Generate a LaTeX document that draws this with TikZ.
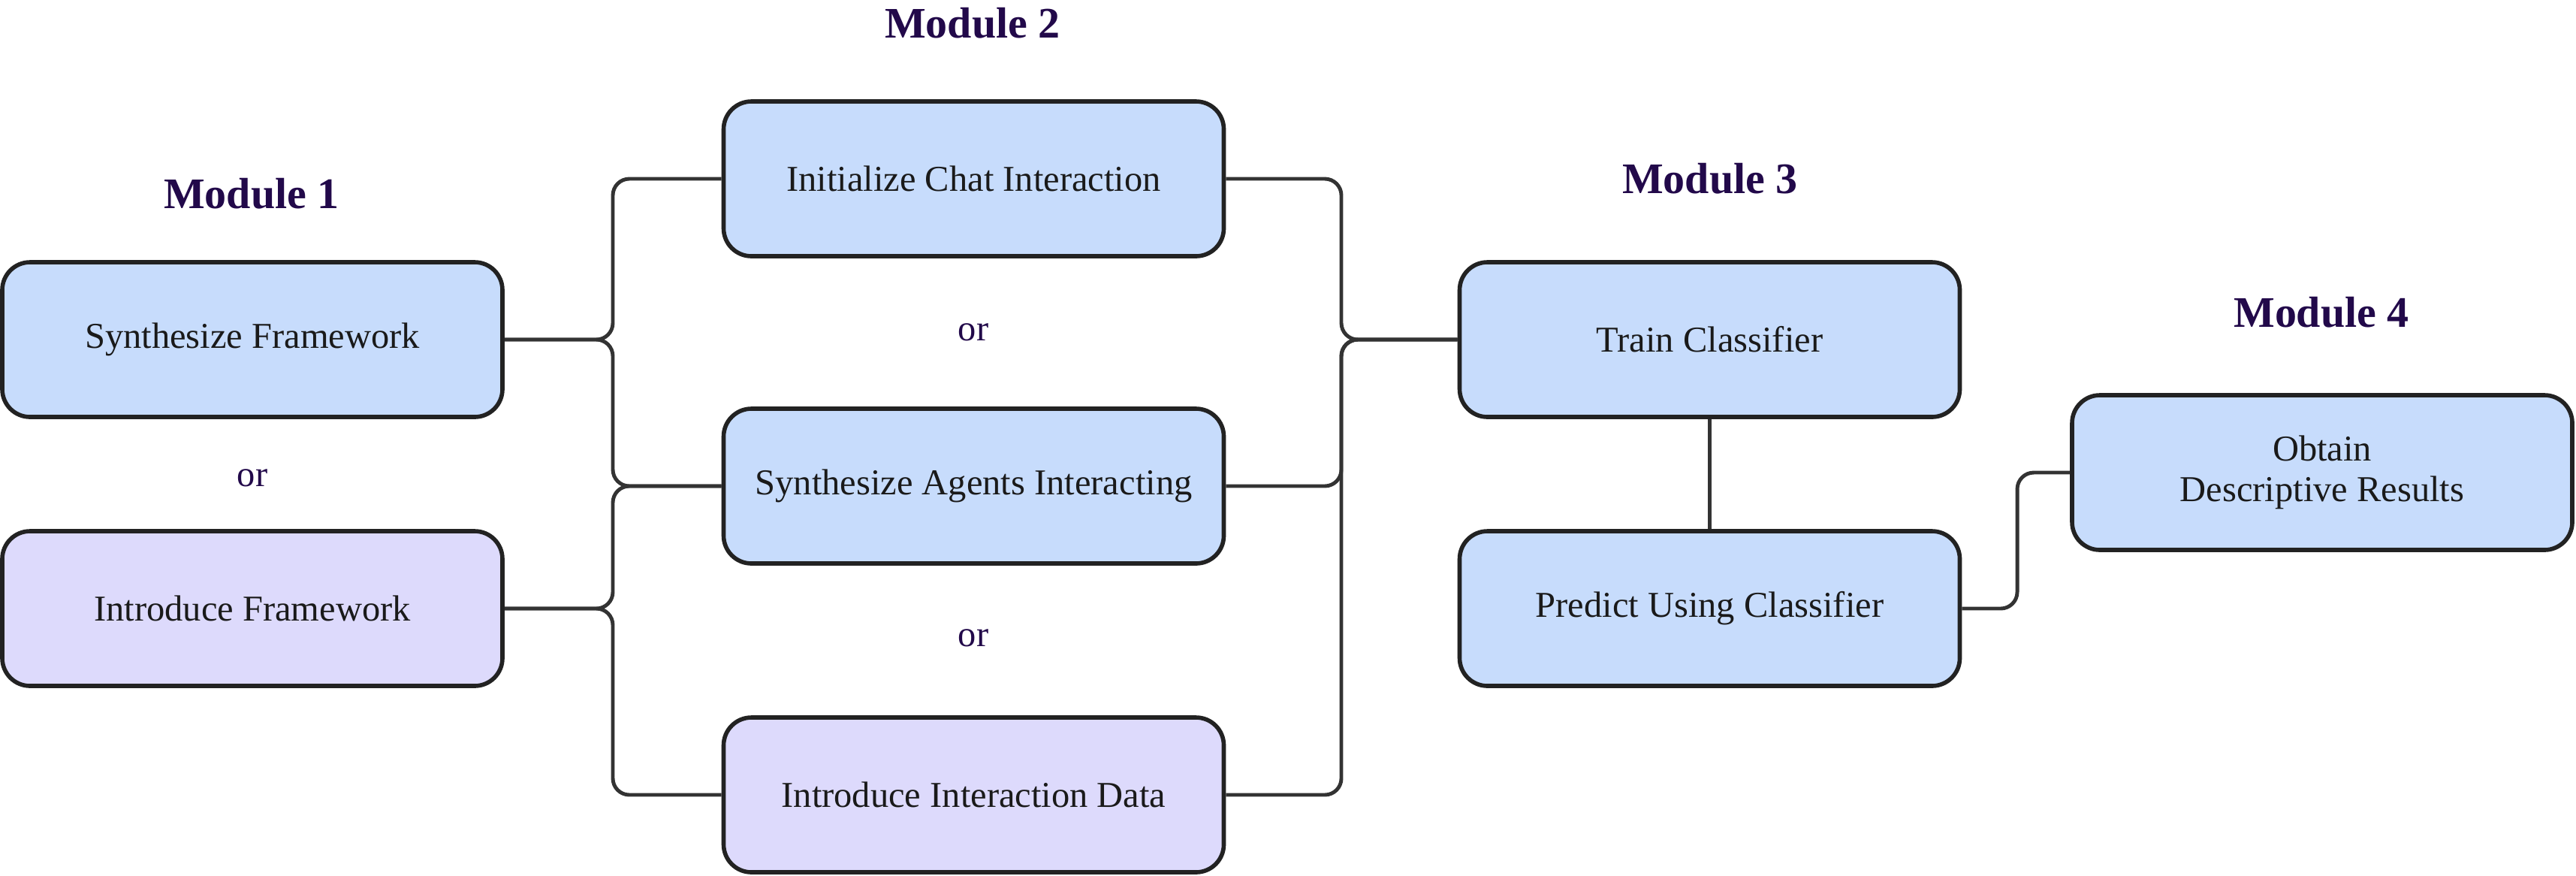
\documentclass[tikz,border=0pt]{standalone}
\usepackage{fontspec}
\setmainfont{Liberation Serif}
\usetikzlibrary{calc}
\definecolor{boxblue}{HTML}{C7DCFC}
\definecolor{boxpurple}{HTML}{DDDAFC}
\definecolor{labelpurple}{HTML}{22094A}
\definecolor{edgegray}{HTML}{333333}
\definecolor{bordergray}{HTML}{222222}
\definecolor{textdark}{HTML}{1A1A1A}
\tikzset{
  stepbox/.style={draw=bordergray, line width=1.6pt, rounded corners=0.37cm,
    minimum width=6.66cm, minimum height=2.06cm, inner sep=0pt, align=center,
    text=textdark, font=\fontsize{13.8}{15.2}\selectfont},
  bluebox/.style={stepbox, fill=boxblue},
  purplebox/.style={stepbox, fill=boxpurple},
  modlabel/.style={text=labelpurple, font=\fontsize{16.5}{19}\selectfont\bfseries, inner sep=0pt},
  orlabel/.style={text=labelpurple, font=\fontsize{13.8}{15}\selectfont, inner sep=0pt},
  conn/.style={draw=edgegray, line width=1.4pt, rounded corners=0.22cm}
}
\begin{document}
\begin{tikzpicture}
\useasboundingbox (0,0) rectangle (34.30,-11.65);
% columns for connectors
\coordinate (xL) at (8.16,0);
\coordinate (xR) at (17.86,0);
\coordinate (xQ) at (26.86,0);
% module labels
\node[modlabel] (m1) at (3.35,-2.58) {Module 1};
\node[modlabel] (m2) at (12.95,-0.31) {Module 2};
\node[modlabel] (m3) at (22.77,-2.38) {Module 3};
\node[modlabel] (m4) at (30.91,-4.16) {Module 4};
% or labels
\node[orlabel] (or1) at (3.36,-6.36) {or};
\node[orlabel] (or2) at (12.96,-4.42) {or};
\node[orlabel] (or3) at (12.96,-8.49) {or};
% boxes
\node[bluebox] (SF) at (3.36,-4.52) {Synthesize Framework};
\node[purplebox] (IF) at (3.36,-8.10) {Introduce Framework};
\node[bluebox] (IC) at (12.965,-2.38) {Initialize Chat Interaction};
\node[bluebox] (SA) at (12.965,-6.47) {Synthesize Agents Interacting};
\node[purplebox] (ID) at (12.965,-10.58) {Introduce Interaction Data};
\node[bluebox] (TC) at (22.765,-4.52) {Train Classifier};
\node[bluebox] (PC) at (22.765,-8.10) {Predict Using Classifier};
\node[bluebox] (OB) at (30.92,-6.29) {Obtain\\Descriptive Results};
% connectors
\draw[conn] (SF.east) -- (SF.east -| xL) |- (IC.west);
\draw[conn] (SF.east) -- (SF.east -| xL) |- (SA.west);
\draw[conn] (IF.east) -- (IF.east -| xL) |- (SA.west);
\draw[conn] (IF.east) -- (IF.east -| xL) |- (ID.west);
\draw[conn] (IC.east) -- (IC.east -| xR) |- (TC.west);
\draw[conn] (SA.east) -- (SA.east -| xR) |- (TC.west);
\draw[conn] (ID.east) -- (ID.east -| xR) |- (TC.west);
\draw[conn] (TC.south) -- (PC.north);
\draw[conn] (PC.east) -- (PC.east -| xQ) |- (OB.west);
\end{tikzpicture}
\end{document}
